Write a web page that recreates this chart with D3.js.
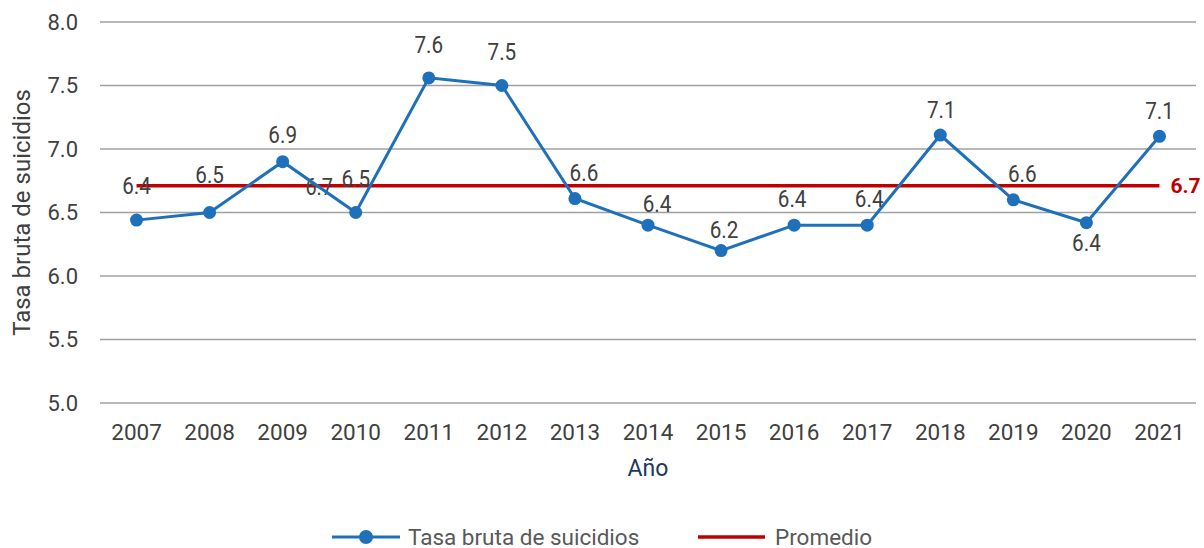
<!DOCTYPE html>
<html>
<head>
<meta charset="utf-8">
<script src="https://cdn.jsdelivr.net/npm/d3@7"></script>
<style>
  body { margin: 0; background: #fff; }
  svg { font-family: Roboto, "Noto Sans", sans-serif; }
</style>
</head>
<body>
<svg id="chart" width="1204" height="548"></svg>
<script>
// data
const years = ["2007","2008","2009","2010","2011","2012","2013","2014","2015","2016","2017","2018","2019","2020","2021"];
const rates = [6.44, 6.5, 6.9, 6.5, 7.56, 7.5, 6.61, 6.4, 6.2, 6.4, 6.4, 7.11, 6.6, 6.42, 7.1];
const average = 6.71;
const yTicks = [5.0, 5.5, 6.0, 6.5, 7.0, 7.5, 8.0];

// label nudges (Excel kept some labels moved by hand)
const labelDx = [0, 0, 0, 0, 0, 0, 9, 9, 3, -2, 2, 1, 9, 0, 0];
const labelDy = [-26, -30, -19, -26, -25, -26, -18, -13, -13, -18, -18, -17, -18, 28, -17];

const svg = d3.select("#chart");
const margin = { top: 22, right: 8, bottom: 145, left: 100 };
const width = 1204 - margin.left - margin.right;
const height = 548 - margin.top - margin.bottom;

const g = svg.append("g")
    .attr("transform", `translate(${margin.left},${margin.top})`);

const x = d3.scaleBand()
    .domain(years)
    .range([0, width])
    .padding(0);

const y = d3.scaleLinear()
    .domain([5, 8])
    .range([height, 0]);

const cx = d => x(d) + x.bandwidth() / 2;

// gridlines
g.append("g")
    .selectAll("line")
    .data(yTicks)
    .enter().append("line")
    .attr("x1", 0)
    .attr("x2", width)
    .attr("y1", d => y(d))
    .attr("y2", d => y(d))
    .attr("stroke", "#a0a0a0")
    .attr("stroke-width", 1.3);

// y axis labels
const yAxis = g.append("g")
    .call(d3.axisLeft(y).tickValues(yTicks).tickFormat(d3.format(".1f")).tickSize(0).tickPadding(22));
yAxis.select(".domain").remove();
yAxis.selectAll("text")
    .style("font-size", "22px")
    .style("font-family", "Roboto")
    .attr("fill", "#404040");

// x axis labels
const xAxis = g.append("g")
    .attr("transform", `translate(0,${height})`)
    .call(d3.axisBottom(x).tickSize(0).tickPadding(21));
xAxis.select(".domain").remove();
xAxis.selectAll("text")
    .style("font-size", "22.5px")
    .style("font-family", "Roboto")
    .attr("fill", "#404040");

// axis titles
g.append("text")
    .attr("x", width / 2)
    .attr("y", height + 73)
    .attr("text-anchor", "middle")
    .attr("fill", "#1f3864")
    .style("font-size", "23px")
    .text("Año");

g.append("text")
    .attr("transform", `translate(${22 - margin.left},${height / 2}) rotate(-90)`)
    .attr("text-anchor", "middle")
    .attr("dominant-baseline", "central")
    .attr("fill", "#404040")
    .style("font-size", "24px")
    .text("Tasa bruta de suicidios");

// average line
g.append("line")
    .attr("x1", cx(years[0]))
    .attr("x2", cx(years[years.length - 1]))
    .attr("y1", y(average))
    .attr("y2", y(average))
    .attr("stroke", "#c00000")
    .attr("stroke-width", 3.5);

g.append("text")
    .attr("x", cx(years[years.length - 1]) + 11)
    .attr("y", y(average))
    .attr("dy", "0.35em")
    .attr("fill", "#c00000")
    .style("font-size", "21px")
    .style("font-weight", "bold")
    .text(d3.format(".1f")(average));

// stray average label sitting between 2009 and 2010
g.append("text")
    .attr("transform", `translate(${(cx(years[2]) + cx(years[3])) / 2},${y(average) + 9}) scale(0.86,1)`)
    .attr("text-anchor", "middle")
    .attr("fill", "#404040")
    .style("font-size", "23px")
    .text(d3.format(".1f")(average));

// series line
const line = d3.line()
    .x((d, i) => cx(years[i]))
    .y(d => y(d));

g.append("path")
    .datum(rates)
    .attr("d", line)
    .attr("fill", "none")
    .attr("stroke", "#1f70bb")
    .attr("stroke-width", 3);

g.selectAll(".dot")
    .data(rates)
    .enter().append("circle")
    .attr("cx", (d, i) => cx(years[i]))
    .attr("cy", d => y(d))
    .attr("r", 6.5)
    .attr("fill", "#1f70bb");

// data labels
g.selectAll(".lbl")
    .data(rates)
    .enter().append("text")
    .attr("transform", (d, i) => `translate(${cx(years[i]) + labelDx[i]},${y(d) + labelDy[i]}) scale(0.88,1)`)
    .attr("text-anchor", "middle")
    .attr("fill", "#404040")
    .style("font-size", "23.5px")
    .text(d => d3.format(".1f")(d - 0.001));

// legend
const legend = svg.append("g")
    .attr("transform", "translate(0,537)");

legend.append("line")
    .attr("x1", 332).attr("x2", 400)
    .attr("y1", 0).attr("y2", 0)
    .attr("stroke", "#1f70bb")
    .attr("stroke-width", 3);
legend.append("circle")
    .attr("cx", 366).attr("cy", 0).attr("r", 7)
    .attr("fill", "#1f70bb");
legend.append("text")
    .attr("x", 408).attr("y", 0).attr("dy", "0.35em")
    .attr("fill", "#595959")
    .style("font-size", "22.5px")
    .text("Tasa bruta de suicidios");

legend.append("line")
    .attr("x1", 698).attr("x2", 765)
    .attr("y1", 0).attr("y2", 0)
    .attr("stroke", "#c00000")
    .attr("stroke-width", 3.5);
legend.append("text")
    .attr("x", 775).attr("y", 0).attr("dy", "0.35em")
    .attr("fill", "#595959")
    .style("font-size", "22.5px")
    .text("Promedio");
</script>
</body>
</html>
